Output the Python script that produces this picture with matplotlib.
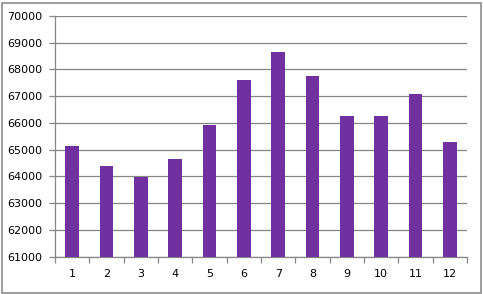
import matplotlib
matplotlib.use("Agg")
import matplotlib.pyplot as plt
from matplotlib.patches import Rectangle

categories = ["1", "2", "3", "4", "5", "6", "7", "8", "9", "10", "11", "12"]
values = [65130, 64390, 63990, 64640, 65930, 67610, 68660, 67760, 66260, 66260, 67070, 65290]
yticks = [61000, 62000, 63000, 64000, 65000, 66000, 67000, 68000, 69000, 70000]

W, H = 483, 294
fig = plt.figure(figsize=(W / 100, H / 100), dpi=100)
fig.patch.set_facecolor("white")

left, right, top, bottom = 55, 467, 16, 256.7
ax = fig.add_axes([left / W, 1 - bottom / H, (right - left) / W, (bottom - top) / H])

x = list(range(len(categories)))
ax.bar(x, values, width=0.4, color="#7030A0", zorder=3, bottom=0)
ax.set_ylim(61000, 70000)
ax.set_xlim(-0.5, len(categories) - 0.5)
ax.set_yticks(yticks)
ax.set_yticklabels([str(v) for v in yticks])
ax.set_xticks(x)
ax.set_xticklabels(categories)
ax.set_xticks([i + 0.5 for i in range(-1, len(categories))], minor=True)

ax.grid(axis="y", color="#868686", linewidth=0.9, zorder=0)
for s in ["top", "right"]:
    ax.spines[s].set_visible(False)
for s in ["left", "bottom"]:
    ax.spines[s].set_color("#868686")
    ax.spines[s].set_linewidth(0.9)

ax.tick_params(axis="x", which="major", length=0, pad=9, labelsize=8, colors="black")
ax.tick_params(axis="x", which="minor", length=4, color="#868686", width=0.9)
ax.tick_params(axis="y", length=4, color="#868686", width=0.9, labelsize=8, pad=5, colors="black")
for lab in ax.get_xticklabels() + ax.get_yticklabels():
    lab.set_color("black")

fig.patches.append(Rectangle((1.5 / W, 1.5 / H), (W - 3.5) / W, (H - 4) / H,
                             transform=fig.transFigure, fill=False,
                             edgecolor="#8c8c8c", linewidth=1.2))

fig.savefig("out.png", dpi=100, facecolor="white")
